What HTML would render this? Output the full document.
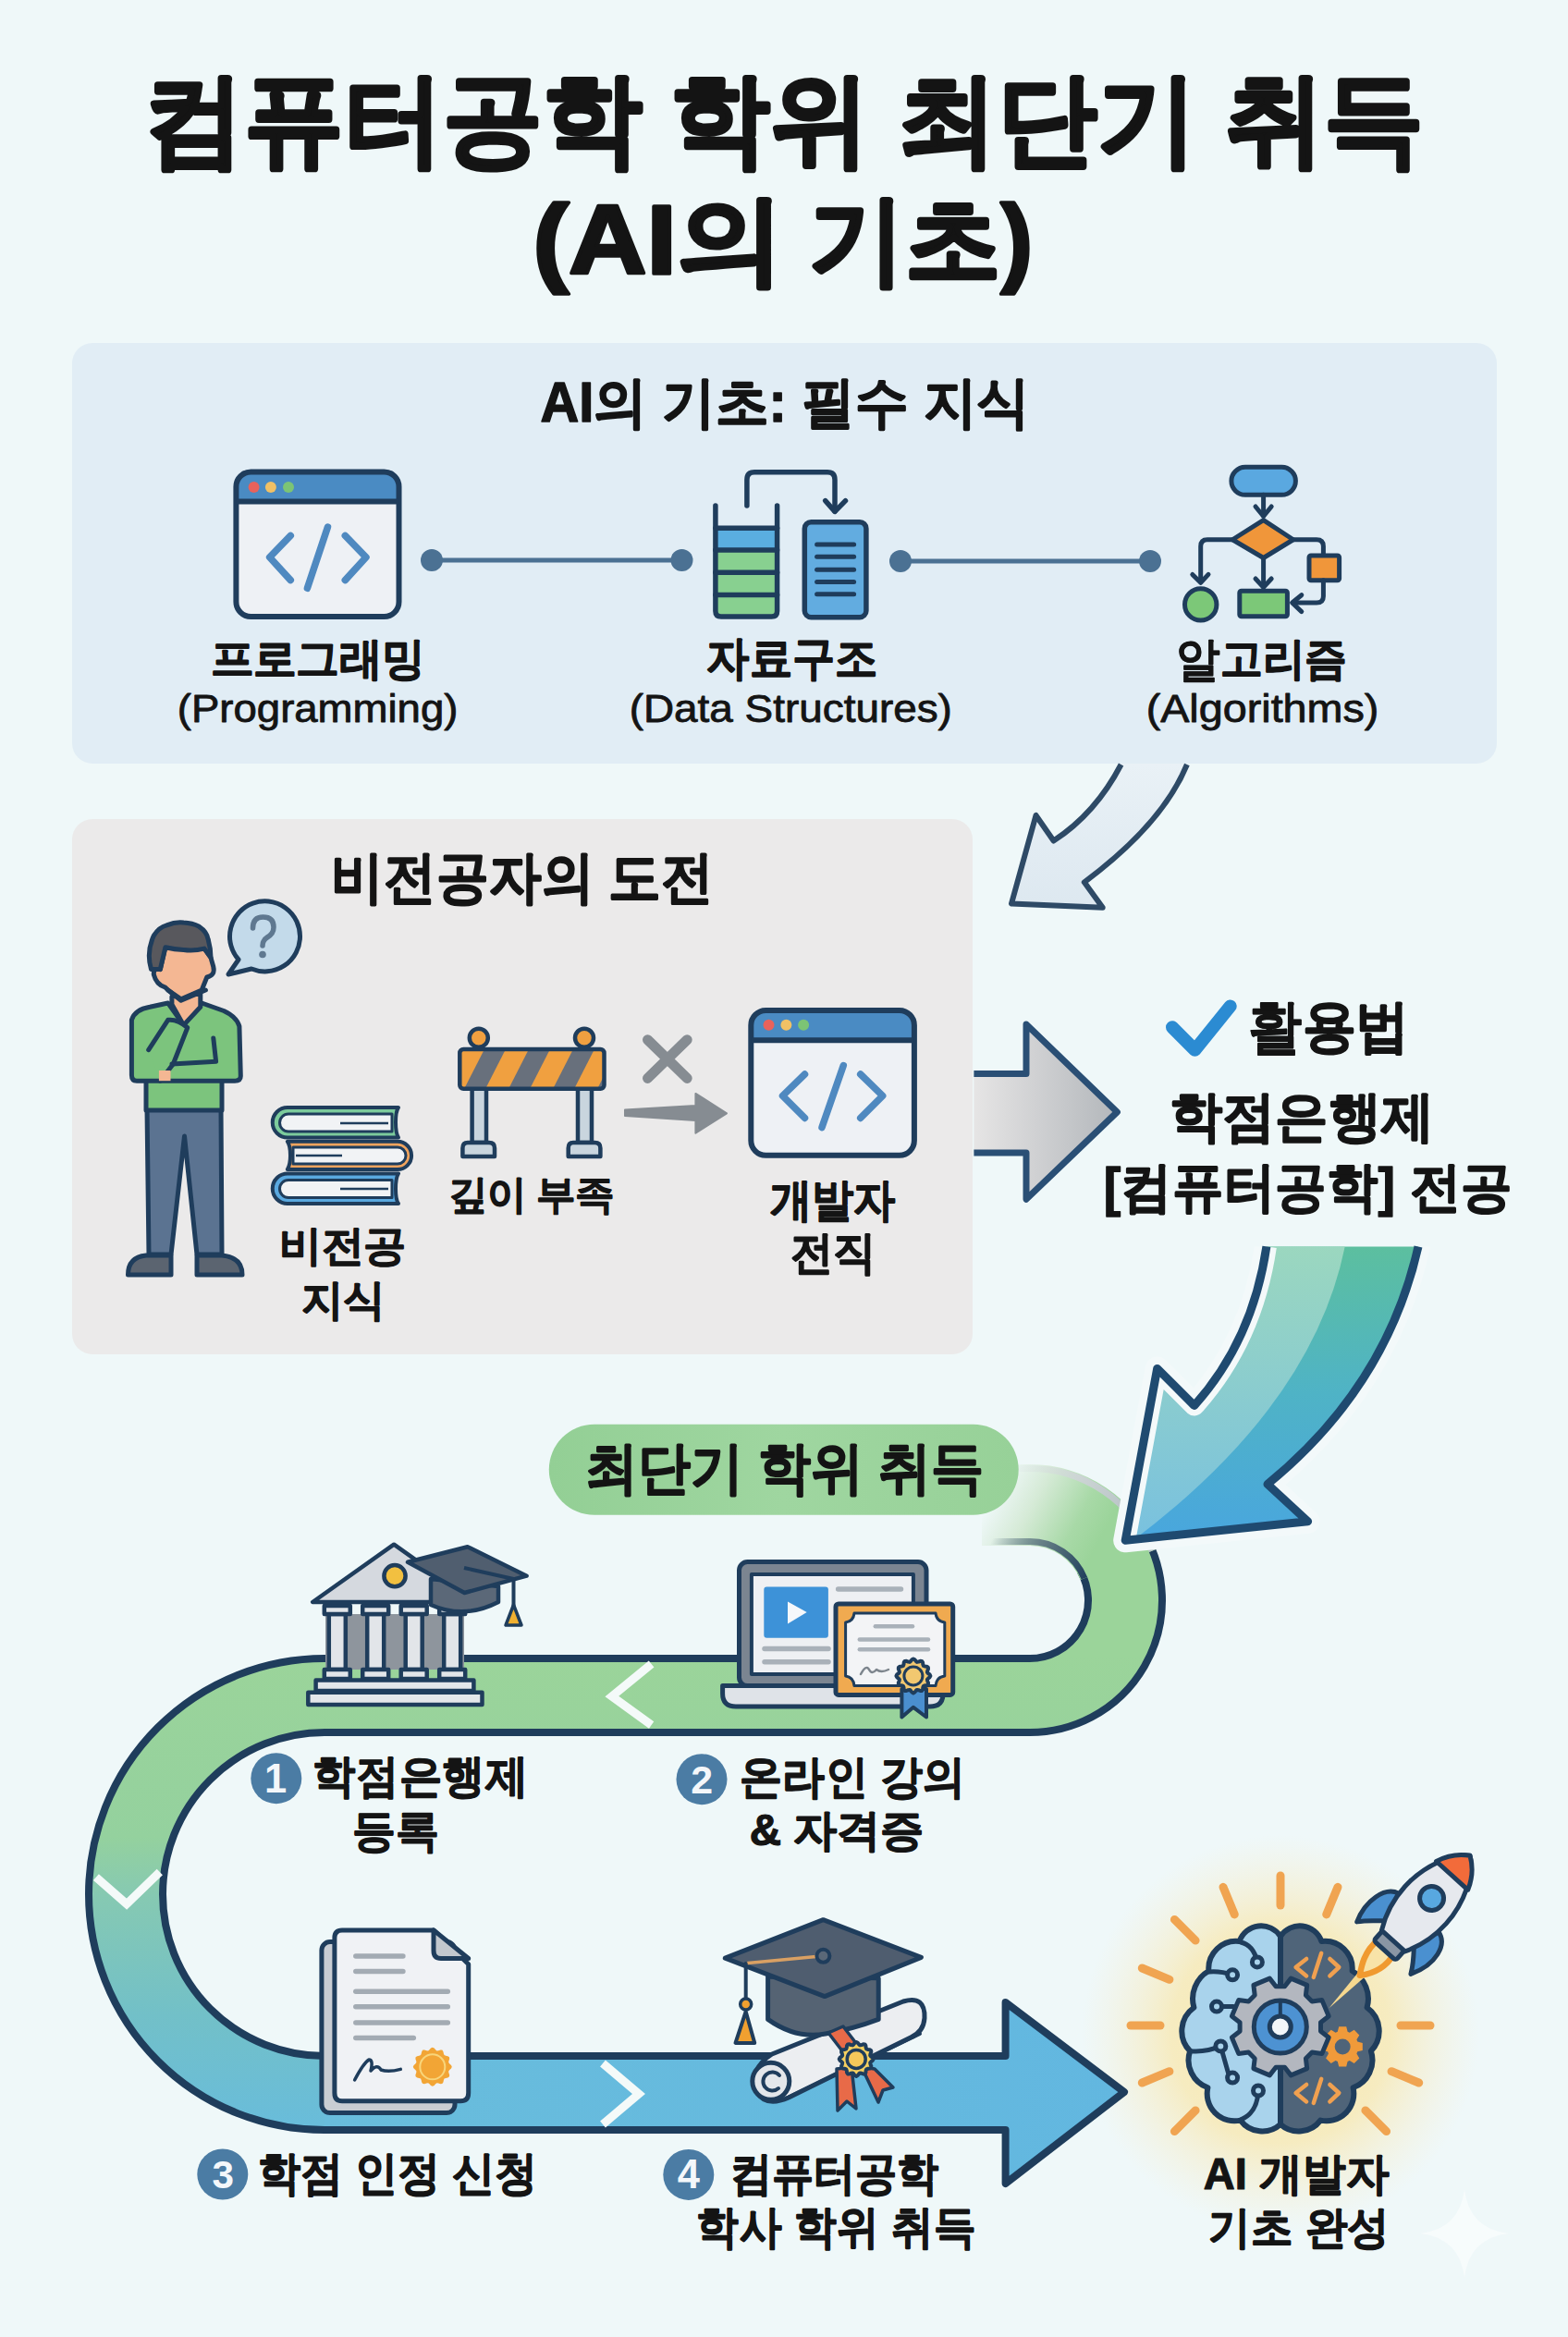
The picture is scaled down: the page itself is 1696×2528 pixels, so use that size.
<!DOCTYPE html>
<html><head><meta charset="utf-8"><title>컴퓨터공학 학위 최단기 취득</title><style>html,body{margin:0;padding:0;background:#eff8f9;width:1696px;height:2528px;overflow:hidden;font-family:"Liberation Sans",sans-serif}svg{display:block}</style></head><body>
<svg width="1696" height="2528" viewBox="0 0 1696 2528">
<defs>
<linearGradient id="roadG" gradientUnits="userSpaceOnUse" x1="0" y1="1790" x2="0" y2="2310">
 <stop offset="0" stop-color="#9bd49a"/><stop offset="0.38" stop-color="#94d19e"/>
 <stop offset="0.5" stop-color="#86c9b2"/><stop offset="0.75" stop-color="#72c0c8"/><stop offset="1" stop-color="#68bcdc"/></linearGradient>
<linearGradient id="blueBand" gradientUnits="userSpaceOnUse" x1="350" y1="0" x2="1220" y2="0">
 <stop offset="0" stop-color="#69bddc"/><stop offset="1" stop-color="#62b7e0"/></linearGradient>
<linearGradient id="fadeTop" gradientUnits="userSpaceOnUse" x1="1065" y1="0" x2="1200" y2="0">
 <stop offset="0" stop-color="#eff8f9" stop-opacity="1"/><stop offset="0.35" stop-color="#eff8f9" stop-opacity="0.75"/><stop offset="1" stop-color="#eff8f9" stop-opacity="0"/></linearGradient>
<linearGradient id="grayArrow" gradientUnits="userSpaceOnUse" x1="1053" y1="0" x2="1208" y2="0">
 <stop offset="0" stop-color="#e6e5e5"/><stop offset="0.45" stop-color="#cfd0d2"/><stop offset="1" stop-color="#b3b7bb"/></linearGradient>
<linearGradient id="lightArrow" gradientUnits="userSpaceOnUse" x1="0" y1="827" x2="0" y2="982">
 <stop offset="0" stop-color="#e9f1f6"/><stop offset="1" stop-color="#dde8f0"/></linearGradient>
<linearGradient id="bigL" gradientUnits="userSpaceOnUse" x1="0" y1="1348" x2="0" y2="1666">
 <stop offset="0" stop-color="#9bd7bf"/><stop offset="1" stop-color="#79c1df"/></linearGradient>
<linearGradient id="bigR" gradientUnits="userSpaceOnUse" x1="0" y1="1348" x2="0" y2="1666">
 <stop offset="0" stop-color="#5cbf9f"/><stop offset="0.5" stop-color="#4fb3c6"/><stop offset="1" stop-color="#49a6de"/></linearGradient>
<radialGradient id="glow" cx="1385" cy="2200" r="215" gradientUnits="userSpaceOnUse">
 <stop offset="0" stop-color="#fbe6a0" stop-opacity="0.95"/><stop offset="0.55" stop-color="#f9e6a8" stop-opacity="0.7"/><stop offset="1" stop-color="#f7eccc" stop-opacity="0"/></radialGradient>
<linearGradient id="pill" x1="0" y1="0" x2="1" y2="0">
 <stop offset="0" stop-color="#93cf95"/><stop offset="0.5" stop-color="#9fd6a0"/><stop offset="1" stop-color="#97d198"/></linearGradient>
<linearGradient id="stubG" gradientUnits="userSpaceOnUse" x1="1080" y1="1605" x2="1190" y2="1665">
 <stop offset="0" stop-color="#eff8f9"/><stop offset="0.35" stop-color="#d5ead6"/><stop offset="0.75" stop-color="#a8d9a7"/><stop offset="1" stop-color="#9bd49a"/></linearGradient>
<linearGradient id="stubN" gradientUnits="userSpaceOnUse" x1="1075" y1="1660" x2="1180" y2="1700">
 <stop offset="0" stop-color="#1f3d5c" stop-opacity="0"/><stop offset="0.45" stop-color="#52687a" stop-opacity="0.8"/><stop offset="1" stop-color="#1f3d5c" stop-opacity="1"/></linearGradient>
<linearGradient id="outerG" gradientUnits="userSpaceOnUse" x1="1085" y1="1590" x2="1230" y2="1650">
 <stop offset="0" stop-color="#dfe6e6" stop-opacity="0"/><stop offset="0.5" stop-color="#cdd5d5"/><stop offset="1" stop-color="#b4c0c4"/></linearGradient>
<clipPath id="belowTop"><rect x="1150" y="1348.4" width="450" height="400"/></clipPath>
<clipPath id="boardClip"><rect x="497.3" y="1134.9" width="156.2" height="42.9" rx="4"/></clipPath>
<clipPath id="bigClip"><path id="bigPath" d="M1369.9 1348.4 Q1355 1450 1291.8 1520.5 L1251.7 1480.4 L1217.2 1666.3 L1414.6 1645.7 L1371 1605.5 Q1500 1500 1534 1348.4 Z"/></clipPath>
</defs>
<rect x="0" y="0" width="1696" height="2528" fill="#eff8f9"/>
<rect x="78" y="371" width="1541" height="455" rx="22" fill="#e1edf5"/>
<rect x="78" y="886" width="974" height="579" rx="22" fill="#ebeaea"/>

<rect x="255.4" y="510.4" width="176.1" height="156.60000000000002" rx="16" fill="#eef1f5"/>
<path d="M255.4 542.5 V526.4 Q255.4 510.4 271.4 510.4 H415.5 Q431.5 510.4 431.5 526.4 V542.5 Z" fill="#4a8bc3"/>
<rect x="255.4" y="510.4" width="176.1" height="156.60000000000002" rx="16" fill="none" stroke="#1f3d5c" stroke-width="6"/>
<line x1="255.4" y1="542.5" x2="431.5" y2="542.5" stroke="#1f3d5c" stroke-width="6"/>
<circle cx="274.6" cy="527" r="6" fill="#e8625c"/>
<circle cx="292.9" cy="527" r="6" fill="#f1c165"/>
<circle cx="312" cy="527" r="6" fill="#7cc475"/>
<g fill="none" stroke="#4f89c0" stroke-width="7.5" stroke-linecap="round" stroke-linejoin="round"><polyline points="314.3,579.4 291.6,602.8 314.3,627.6"/><line x1="354.5" y1="570" x2="332.4" y2="636.3"/><polyline points="373.3,579.4 396,602.8 373.3,627.6"/></g>
<line x1="467" y1="606" x2="737.5" y2="606" stroke="#4b7193" stroke-width="5"/><circle cx="467" cy="606" r="12" fill="#4b7193"/><circle cx="737.5" cy="606" r="12" fill="#4b7193"/>
<line x1="974" y1="607" x2="1244" y2="607" stroke="#4b7193" stroke-width="5"/><circle cx="974" cy="607" r="12" fill="#4b7193"/><circle cx="1244" cy="607" r="12" fill="#4b7193"/>
<g stroke="#1f3d5c" stroke-width="5.5" stroke-linejoin="round" stroke-linecap="round">
<rect x="773.9" y="571.3" width="66.7" height="23.7" fill="#5aaee0" stroke="none"/>
<rect x="773.9" y="595" width="66.7" height="72" fill="#88d090" stroke="none"/>
<path d="M773.9 547.1 V661 Q773.9 667 780 667 H834.6 Q840.6 667 840.6 661 V547.1" fill="none"/>
<line x1="773.9" y1="571.3" x2="840.6" y2="571.3"/><line x1="773.9" y1="595" x2="840.6" y2="595"/>
<line x1="773.9" y1="619.2" x2="840.6" y2="619.2"/><line x1="773.9" y1="643.4" x2="840.6" y2="643.4"/>
<rect x="870.3" y="564.7" width="66.6" height="103" rx="7" fill="#62ace0"/>
<g stroke-width="5"><line x1="883.6" y1="588.9" x2="923.6" y2="588.9"/><line x1="883.6" y1="602.2" x2="923.6" y2="602.2"/><line x1="883.6" y1="616.2" x2="923.6" y2="616.2"/><line x1="883.6" y1="629.5" x2="923.6" y2="629.5"/><line x1="883.6" y1="642.8" x2="923.6" y2="642.8"/></g>
<path d="M807.9 547.1 V519 Q807.9 510.8 816 510.8 H895 Q903 510.8 903 519 V553" fill="none"/>
<polyline points="892.7,541.6 903,553.4 914.5,541.6" fill="none"/>
</g>
<g stroke="#1f3d5c" stroke-width="5" stroke-linejoin="round" stroke-linecap="round" fill="none">
<rect x="1331.9" y="505.3" width="69.5" height="30" rx="15" fill="#5aa8e0"/>
<line x1="1366.6" y1="535.3" x2="1366.6" y2="558"/><polyline points="1358,548 1366.6,558.5 1375.2,548"/>
<polygon points="1366.6,562.7 1398.8,583.75 1366.6,603.5 1333.1,583.75" fill="#f0963a"/>
<path d="M1333.1 583.75 H1306 Q1298.7 583.75 1298.7 591 V629"/><polyline points="1289.8,621.4 1298.7,630.3 1307,621.4"/>
<circle cx="1298.7" cy="653.9" r="17.2" fill="#7cc878"/>
<line x1="1366.6" y1="603.5" x2="1366.6" y2="634.5"/><polyline points="1358,626 1366.6,635.4 1375.2,626"/>
<rect x="1340.8" y="639.2" width="51.6" height="27.5" rx="2" fill="#7cc878"/>
<path d="M1398.8 583.75 H1424 Q1431.4 583.75 1431.4 591 V601"/>
<rect x="1416" y="601" width="32.6" height="26.8" rx="2" fill="#f0963a"/>
<path d="M1431.4 627.8 V645 Q1431.4 652 1424 652 H1398.6"/><polyline points="1407.8,643.7 1397.6,652 1407.8,661.6"/>
</g>
<path d="M1212.6 826 Q1185 880 1139.6 909.5 L1120.5 882 L1094 977.5 L1192.7 981.7 L1172.8 954.3 Q1257.6 891.1 1283.9 826 Z" fill="url(#lightArrow)"/>
<path d="M1212.6 827 Q1185 880 1139.6 909.5 L1120.5 882 L1094 977.5 L1192.7 981.7 L1172.8 954.3 Q1257.6 891.1 1283.9 827" fill="none" stroke="#2e4a66" stroke-width="6" stroke-linejoin="round"/>
<g stroke="#1f3d5c" stroke-width="5" stroke-linejoin="round" stroke-linecap="round">
<path d="M159 1199 H239 L240 1357 H213 L199.5 1229 L185 1357 H161 Z" fill="#5b7391"/>
<path d="M138.5 1379 Q138.5 1360 158 1358 H185 V1379 Z" fill="#5b6470"/>
<path d="M213 1358 H240 Q262 1360 262 1379 H213 Z" fill="#5b6470"/>
<path d="M158 1165 H240 V1201 H158 Z" fill="#7cc47d"/>
<path d="M142.4 1103.3 Q146 1092 162.1 1089.3 L181.7 1085 L198.6 1108.9 L218.2 1085 L242.1 1093.5 Q256 1100 258.9 1110.3 L260.3 1164 Q260.3 1169.2 254 1169.2 H148 Q142.4 1169.2 142.4 1163 Z" fill="#7cc47d"/>
<path d="M185.9 1078 V1086.5 L198.6 1108.9 L216.8 1089.3 V1075 Z" fill="#f4b793"/>
<path d="M178.9 1024.7 L221 1026.1 L228 1035.9 L230.8 1045.8 Q233 1055 223.8 1057 L218.2 1071 L195.8 1080.8 L181.7 1071 L178.9 1068.2 Q169.1 1065.4 166.3 1054.2 Q166 1046 173.3 1048.6 Z" fill="#f4b793"/>
<path d="M163.5 1048.6 Q158 1030 166.3 1012.1 Q172 1003 180.3 1000.9 Q190 997 198.6 998.1 Q208 998.5 215.4 1002.3 Q224 1008 225.2 1016.3 Q228 1026 228 1035.9 L221 1026.1 Q210 1029 198.6 1027.5 Q189 1027 178.9 1024.7 L173.3 1048.6 Z" fill="#58585d"/>
<path d="M181.7 1071 L195.8 1082.2 L222.4 1071" fill="none" stroke-width="5"/>
<path d="M160.7 1135.6 L181.7 1103.3 Q192 1102 202.8 1111.7 L187.3 1151 L173.3 1169.2" fill="#7cc47d"/>
<path d="M171.9 1158 H184.5 V1169.2 H171.9 Z" fill="#f4b793" stroke="none"/>
<path d="M186 1151 L233.6 1148.2 L230.8 1123" fill="none"/>
</g>
<path d="M258 1038 A38 38 0 1 1 272 1048 L247 1054 Z" fill="#c3daea" stroke="#1f3d5c" stroke-width="5" stroke-linejoin="round"/>
<g stroke="#1f3d5c" stroke-width="4" stroke-linejoin="round">
<path d="M431 1198 H311 A16.25 16.25 0 0 0 311 1230.5 H431 Q428 1226 428 1214 Q428 1202 431 1198 Z" fill="#7ccb9c"/>
<path d="M424 1205 H312 A9.5 9.5 0 0 0 312 1224 H424 Z" fill="#f1f3f5" stroke-width="3"/>
<path d="M310.8 1234.8 H430 A15.1 15.1 0 0 1 430 1265 H310.8 Q314 1260 314 1250 Q314 1239 310.8 1234.8 Z" fill="#f0a45e"/>
<path d="M317 1241 H430 A9 9 0 0 1 430 1259 H317 Z" fill="#f1f3f5" stroke-width="3"/>
<path d="M431 1269.5 H311 A16.25 16.25 0 0 0 311 1302 H431 Q428 1298 428 1286 Q428 1274 431 1269.5 Z" fill="#5aa9e0"/>
<path d="M424 1276.5 H312 A9.5 9.5 0 0 0 312 1295.5 H424 Z" fill="#f1f3f5" stroke-width="3"/>
<line x1="368" y1="1215" x2="420" y2="1215" stroke-width="2.5"/>
<line x1="320" y1="1250" x2="370" y2="1250" stroke-width="2.5"/>
<line x1="368" y1="1286" x2="420" y2="1286" stroke-width="2.5"/>
</g>
<g stroke="#1f3d5c" stroke-width="4.5" stroke-linejoin="round">
<rect x="510.6" y="1177.8" width="15.4" height="58.2" fill="#c9d5de"/>
<rect x="625" y="1177.8" width="15" height="58.2" fill="#c9d5de"/>
<path d="M500.4 1251 V1242 Q500.4 1236 506 1236 H529 Q535 1236 535 1242 V1251 Z" fill="#c9d5de"/>
<path d="M614.7 1251 V1242 Q614.7 1236 620 1236 H643.4 Q649.4 1236 649.4 1242 V1251 Z" fill="#c9d5de"/>
<circle cx="517.8" cy="1122.7" r="10" fill="#f0a040"/><circle cx="632" cy="1122.7" r="10" fill="#f0a040"/>
<rect x="497.3" y="1134.9" width="156.2" height="42.9" rx="4" fill="#f0a040" stroke="none"/>
<g clip-path="url(#boardClip)" stroke="none"><polygon points="502,1178 525,1178 547,1134.9 524,1134.9" fill="#68707c"/><polygon points="550,1178 573,1178 595,1134.9 572,1134.9" fill="#68707c"/><polygon points="598,1178 621,1178 643,1134.9 620,1134.9" fill="#68707c"/><polygon points="646,1178 669,1178 691,1134.9 668,1134.9" fill="#68707c"/></g>
<rect x="497.3" y="1134.9" width="156.2" height="42.9" rx="4" fill="none"/>
</g>
<g stroke="#868c92" stroke-width="11" stroke-linecap="round"><line x1="700.5" y1="1124.8" x2="743.2" y2="1166.4"/><line x1="743.2" y1="1124.8" x2="700.5" y2="1166.4"/></g>
<path d="M676 1200.5 L752.4 1196 V1182.9 L786 1204.3 L752.4 1225.7 V1212 L676 1207 Z" fill="#868c92" stroke="#868c92" stroke-width="2" stroke-linejoin="round"/>
<rect x="812.3" y="1093" width="176.60000000000002" height="156.70000000000005" rx="16" fill="#eef1f5"/>
<path d="M812.3 1125.2 V1109 Q812.3 1093 828.3 1093 H972.9 Q988.9 1093 988.9 1109 V1125.2 Z" fill="#4a8bc3"/>
<rect x="812.3" y="1093" width="176.60000000000002" height="156.70000000000005" rx="16" fill="none" stroke="#1f3d5c" stroke-width="6"/>
<line x1="812.3" y1="1125.2" x2="988.9" y2="1125.2" stroke="#1f3d5c" stroke-width="6"/>
<circle cx="831.5" cy="1108.7" r="6" fill="#e8625c"/>
<circle cx="850.4" cy="1108.7" r="6" fill="#f1c165"/>
<circle cx="869.1" cy="1108.7" r="6" fill="#7cc475"/>
<g fill="none" stroke="#4f89c0" stroke-width="7.5" stroke-linecap="round" stroke-linejoin="round"><polyline points="870.5,1162 846.5,1185.4 870.5,1209.4"/><line x1="912.3" y1="1152.6" x2="889" y2="1219.6"/><polyline points="930.7,1162 954.7,1185.4 930.7,1209.4"/></g>
<path d="M1053.4 1161.4 H1110 V1107.9 L1208.4 1202.9 L1110 1297.3 V1246.9 H1053.4 Z" fill="url(#grayArrow)"/>
<path d="M1053.4 1161.4 H1110 V1107.9 L1208.4 1202.9 L1110 1297.3 V1246.9 H1053.4" fill="none" stroke="#2a4f75" stroke-width="7" stroke-linejoin="round"/>
<polyline points="1268,1111.3 1292.4,1135.8 1330.7,1088.4" fill="none" stroke="#2b8bd2" stroke-width="14" stroke-linecap="round" stroke-linejoin="round"/>
<circle cx="1385" cy="2200" r="215" fill="url(#glow)"/>
<path d="M1203.20 1679.50 A103 103 0 0 1 1114 1834 H351 A215 215 0 0 0 351 2264 H1090" fill="none" stroke="#1f3d5c" stroke-width="88"/>
<path d="M1203.20 1679.50 A103 103 0 0 1 1114 1834 H351 A215 215 0 0 0 351 2264 H1090" fill="none" stroke="url(#roadG)" stroke-width="72"/>
<path d="M1062 1584 H1114 A147 147 0 0 1 1250.30 1675.93 L1168.70 1708.90 A59 59 0 0 0 1114 1672 H1062 Z" fill="url(#stubG)"/>
<path d="M1072 1667.5 H1114 A63.5 63.5 0 0 1 1172.88 1707.21" fill="none" stroke="url(#stubN)" stroke-width="7"/>
<path d="M1085 1588.5 H1114 A142.5 142.5 0 0 1 1246.12 1677.62" fill="none" stroke="url(#outerG)" stroke-width="7"/>
<path d="M351 2224.5 H1087.6 V2166 L1216 2263 L1087.6 2362 V2304 H351 Z" fill="url(#blueBand)"/>
<path d="M351 2224 H1087.6 V2166 L1216 2263 L1087.6 2362 V2304 H351" fill="none" stroke="#1f3d5c" stroke-width="8" stroke-linejoin="round"/>
<g fill="none" stroke="#f4faf9" stroke-width="9" stroke-linecap="butt" stroke-linejoin="miter"><polyline points="704.6,1800 661.8,1835 704.6,1866"/><polyline points="103.9,2030.6 137,2059.7 172.8,2025"/><polyline points="652,2232 691,2265 652,2298"/></g>
<rect x="593.8" y="1540.7" width="507.9" height="98.1" rx="49" fill="url(#pill)"/>
<path d="M1369.9 1348.4 Q1355 1450 1291.8 1520.5 L1251.7 1480.4 L1217.2 1666.3 L1414.6 1645.7 L1371 1605.5 Q1500 1500 1534 1348.4 Z" fill="none" stroke="#f3f9fa" stroke-width="26" stroke-linejoin="round" clip-path="url(#belowTop)"/>
<path d="M1369.9 1348.4 Q1355 1450 1291.8 1520.5 L1251.7 1480.4 L1217.2 1666.3 L1414.6 1645.7 L1371 1605.5 Q1500 1500 1534 1348.4 Z" fill="url(#bigR)"/>
<g clip-path="url(#bigClip)"><path d="M1200 1348 H1454.8 Q1420 1520 1225.3 1666.5 L1200 1670 Z" fill="url(#bigL)"/><path d="M1369.9 1348.4 Q1355 1450 1291.8 1520.5 L1251.7 1480.4 L1217.2 1666.3" fill="none" stroke="#f4f9fa" stroke-width="22" stroke-linejoin="round"/></g>
<path d="M1369.9 1348.4 Q1355 1450 1291.8 1520.5 L1251.7 1480.4 L1217.2 1666.3 L1414.6 1645.7 L1371 1605.5 Q1500 1500 1534 1348.4" fill="none" stroke="#1f4a70" stroke-width="9" stroke-linejoin="round"/>
<g stroke="#1f3d5c" stroke-width="4.5" stroke-linejoin="round">
<rect x="352" y="1746" width="150" height="60" fill="#8e959d" stroke="none"/>
<rect x="355.8" y="1746" width="18" height="60" fill="#e2e5e9" /><rect x="397.2" y="1746" width="18" height="60" fill="#e2e5e9" /><rect x="438.7" y="1746" width="18" height="60" fill="#e2e5e9" /><rect x="480.2" y="1746" width="18" height="60" fill="#e2e5e9" />
<rect x="350.8" y="1737" width="28" height="9" fill="#e2e5e9"/><rect x="350.8" y="1806" width="28" height="10" fill="#e2e5e9"/><rect x="392.2" y="1737" width="28" height="9" fill="#e2e5e9"/><rect x="392.2" y="1806" width="28" height="10" fill="#e2e5e9"/><rect x="433.7" y="1737" width="28" height="9" fill="#e2e5e9"/><rect x="433.7" y="1806" width="28" height="10" fill="#e2e5e9"/><rect x="475.2" y="1737" width="28" height="9" fill="#e2e5e9"/><rect x="475.2" y="1806" width="28" height="10" fill="#e2e5e9"/>
<polygon points="426.1,1670.7 338.2,1733 514,1733" fill="#d5d9df"/>
<circle cx="427" cy="1704.7" r="11.6" fill="#f2c040"/>
<rect x="341.6" y="1817.5" width="170.8" height="11.5" fill="#e4e7ea"/>
<rect x="333.3" y="1830.8" width="188.2" height="13.2" fill="#e4e7ea"/>
<path d="M466 1708 V1736 Q502 1752 539 1733 V1716 Z" fill="#5b6878"/>
<polygon points="441,1689.8 505.7,1673.2 569.6,1704.7 502.4,1723" fill="#505e6f"/>
<polyline points="502,1696 555.5,1708 555.5,1738" fill="none" stroke-width="4"/>
<polygon points="547,1758 564,1758 555.5,1736" fill="#f0b030" stroke-width="3.5"/>
</g>
<g stroke="#1f3d5c" stroke-width="5" stroke-linejoin="round" stroke-linecap="round">
<rect x="799.5" y="1689.6" width="202.5" height="134" rx="9" fill="#7b8591"/>
<rect x="812.9" y="1703" width="175" height="108" fill="#eef0f3" stroke-width="4"/>
<rect x="826.3" y="1716.4" width="69.6" height="55.4" rx="3" fill="#3d92d8" stroke="none"/>
<polygon points="852,1732.5 872.7,1744 852,1756.6" fill="#f6f8fb" stroke="none"/>
<g stroke="#a9b1b9" stroke-width="5.5"><line x1="906.6" y1="1719" x2="974.5" y2="1719"/><line x1="827" y1="1783.4" x2="896" y2="1783.4"/><line x1="827" y1="1797.7" x2="896" y2="1797.7"/></g>
<path d="M781.6 1823.6 H1020 V1832 Q1020 1846 1006 1846 H796 Q781.6 1846 781.6 1832 Z" fill="#dfe3e8"/>
<rect x="904" y="1735" width="126.7" height="98.4" rx="3" fill="#f0aa50"/>
<path d="M924 1745 H1012 Q1013 1754 1021.8 1755 V1813 Q1013 1814 1012 1823.6 H924 Q923 1814 914.6 1813 V1755 Q923 1754 924 1745 Z" fill="#f3f4f6" stroke-width="3"/>
<g stroke="#a9b1b9" stroke-width="4.5"><line x1="946.8" y1="1759.3" x2="987" y2="1759.3"/><line x1="929.8" y1="1773.6" x2="1004" y2="1773.6"/><line x1="929.8" y1="1784.3" x2="1004" y2="1784.3"/></g>
<path d="M931 1811 Q937 1800 940 1806 Q943 1812 948 1806 Q953 1810 961 1806" fill="none" stroke="#7d858d" stroke-width="2.5"/>
<polygon points="975.4,1827 1002,1827 1002,1857.5 987.9,1846.8 975.4,1857.5" fill="#4a8fd0" stroke-width="4"/>
<path d="M1006.4 1812.9 L1005.6 1814.4 L1003.9 1815.7 L1002.9 1816.9 L1003.2 1818.5 L1004.0 1820.4 L1003.9 1822.2 L1002.4 1823.1 L1000.3 1823.3 L998.9 1823.9 L998.3 1825.3 L998.1 1827.4 L997.1 1828.9 L995.4 1829.0 L993.5 1828.2 L991.9 1827.9 L990.7 1828.9 L989.4 1830.6 L987.9 1831.4 L986.4 1830.6 L985.1 1828.9 L983.9 1827.9 L982.3 1828.2 L980.4 1829.0 L978.6 1828.9 L977.7 1827.4 L977.5 1825.3 L976.9 1823.9 L975.5 1823.3 L973.4 1823.1 L971.9 1822.2 L971.8 1820.4 L972.6 1818.5 L972.9 1816.9 L971.9 1815.7 L970.2 1814.4 L969.4 1812.9 L970.2 1811.4 L971.9 1810.1 L972.9 1808.9 L972.6 1807.3 L971.8 1805.4 L971.9 1803.7 L973.4 1802.7 L975.5 1802.5 L976.9 1801.9 L977.5 1800.5 L977.7 1798.4 L978.6 1796.9 L980.4 1796.8 L982.3 1797.6 L983.9 1797.9 L985.1 1796.9 L986.4 1795.2 L987.9 1794.4 L989.4 1795.2 L990.7 1796.9 L991.9 1797.9 L993.5 1797.6 L995.4 1796.8 L997.1 1796.9 L998.1 1798.4 L998.3 1800.5 L998.9 1801.9 L1000.3 1802.5 L1002.4 1802.7 L1003.9 1803.7 L1004.0 1805.4 L1003.2 1807.3 L1002.9 1808.9 L1003.9 1810.1 L1005.6 1811.4 L1006.4 1812.9 Z" fill="#f2c870" stroke-width="4"/>
<circle cx="987.9" cy="1812.9" r="10" fill="#f2c870" stroke-width="3"/>
</g>
<g stroke="#1f3d5c" stroke-width="5" stroke-linejoin="round" stroke-linecap="round">
<rect x="347.9" y="2100.6" width="144.1" height="185" rx="9" fill="#c9cdd3"/>
<path d="M370 2087.9 H469 L506.7 2124.8 V2264 Q506.7 2272.8 498 2272.8 H370 Q361.9 2272.8 361.9 2264 V2096 Q361.9 2087.9 370 2087.9 Z" fill="#f0f2f5"/>
<path d="M469 2087.9 V2110 Q469 2118.5 477 2118.5 H506.7 Z" fill="#c2c8ce"/>
<g stroke="#a3abb3" stroke-width="5.5"><line x1="384.8" y1="2115.9" x2="435.9" y2="2115.9"/><line x1="384.8" y1="2132.5" x2="435.9" y2="2132.5"/><line x1="384.8" y1="2154.2" x2="484.3" y2="2154.2"/><line x1="384.8" y1="2170.8" x2="484.3" y2="2170.8"/><line x1="384.8" y1="2188" x2="484.3" y2="2188"/><line x1="384.8" y1="2204.6" x2="447.3" y2="2204.6"/></g>
<path d="M383.6 2250 Q393 2232 399 2228 Q404 2228 401 2240 Q408 2232 412 2239 Q420 2242 433.3 2238.4" fill="none" stroke-width="3.5"/>
<path d="M488.8 2235.8 L488.0 2237.6 L486.3 2239.1 L485.2 2240.5 L485.4 2242.2 L486.2 2244.4 L486.0 2246.3 L484.4 2247.4 L482.2 2247.9 L480.5 2248.5 L479.9 2250.2 L479.4 2252.4 L478.3 2254.0 L476.4 2254.2 L474.2 2253.4 L472.5 2253.2 L471.1 2254.3 L469.6 2256.0 L467.8 2256.8 L466.0 2256.0 L464.5 2254.3 L463.1 2253.2 L461.4 2253.4 L459.2 2254.2 L457.3 2254.0 L456.2 2252.4 L455.7 2250.2 L455.1 2248.5 L453.4 2247.9 L451.2 2247.4 L449.6 2246.3 L449.4 2244.4 L450.2 2242.2 L450.4 2240.5 L449.3 2239.1 L447.6 2237.6 L446.8 2235.8 L447.6 2234.0 L449.3 2232.5 L450.4 2231.1 L450.2 2229.4 L449.4 2227.2 L449.6 2225.3 L451.2 2224.2 L453.4 2223.7 L455.1 2223.1 L455.7 2221.4 L456.2 2219.2 L457.3 2217.6 L459.2 2217.4 L461.4 2218.2 L463.1 2218.4 L464.5 2217.3 L466.0 2215.6 L467.8 2214.8 L469.6 2215.6 L471.1 2217.3 L472.5 2218.4 L474.2 2218.2 L476.4 2217.4 L478.3 2217.6 L479.4 2219.2 L479.9 2221.4 L480.5 2223.1 L482.2 2223.7 L484.4 2224.2 L486.0 2225.3 L486.2 2227.2 L485.4 2229.4 L485.2 2231.1 L486.3 2232.5 L488.0 2234.0 L488.8 2235.8 Z" fill="#f2a535" stroke="none"/>
<circle cx="467.8" cy="2235.8" r="13.5" fill="none" stroke="#f8d57a" stroke-width="2"/>
</g>
<g stroke="#1f3d5c" stroke-width="5" stroke-linejoin="round" stroke-linecap="round">
<path d="M835 2222 L977 2165 Q1001 2158 1000 2183 Q999 2198 985 2204 L853 2269 Q828 2280 818 2262 Q810 2238 835 2222 Z" fill="#eceef1"/>
<path d="M850 2270 L995 2200" fill="none" stroke-width="4"/>
<circle cx="833.8" cy="2251.3" r="20" fill="#e3e6ea"/>
<path d="M843 2245 A10 10 0 1 0 842 2259" fill="none" stroke-width="4"/>
<path d="M830.6 2138 V2184.4 Q861 2206 892.8 2200 Q922 2195 950.2 2184.4 V2139.7 Z" fill="#556373"/>
<polygon points="784.3,2118.2 890.4,2076.7 996.4,2117.4 892,2159.6" fill="#4f5d6f"/>
<line x1="888" y1="2116" x2="809" y2="2123.5" stroke="#d9a063" stroke-width="3.5"/>
<circle cx="890.4" cy="2115.8" r="7" fill="#5a6878" stroke-width="4"/>
<line x1="806.7" y1="2124" x2="806.7" y2="2163" stroke-width="4"/>
<circle cx="806.7" cy="2168" r="6" fill="#f0a030" stroke-width="3.5"/>
<polygon points="795.5,2209.9 816.2,2209.9 806.7,2176" fill="#f0a030" stroke-width="4"/>
<polygon points="896,2199 912,2192 935,2222 919,2229" fill="#e86a48" stroke-width="3.5"/>
<polygon points="905,2238 921,2236 926,2281 916,2273 906,2283" fill="#e86a48" stroke-width="3.5"/>
<polygon points="932,2236 946,2238 966,2258 955,2261 950,2274" fill="#e86a48" stroke-width="3.5"/>
<path d="M944.7 2227.4 L943.9 2228.9 L942.2 2230.2 L941.2 2231.4 L941.5 2233.0 L942.3 2234.9 L942.2 2236.7 L940.7 2237.6 L938.6 2237.8 L937.2 2238.4 L936.6 2239.8 L936.4 2241.9 L935.5 2243.4 L933.7 2243.5 L931.8 2242.7 L930.2 2242.4 L929.0 2243.4 L927.7 2245.1 L926.2 2245.9 L924.7 2245.1 L923.4 2243.4 L922.2 2242.4 L920.6 2242.7 L918.7 2243.5 L917.0 2243.4 L916.0 2241.9 L915.8 2239.8 L915.2 2238.4 L913.8 2237.8 L911.7 2237.6 L910.2 2236.7 L910.1 2234.9 L910.9 2233.0 L911.2 2231.4 L910.2 2230.2 L908.5 2228.9 L907.7 2227.4 L908.5 2225.9 L910.2 2224.6 L911.2 2223.4 L910.9 2221.8 L910.1 2219.9 L910.2 2218.2 L911.7 2217.2 L913.8 2217.0 L915.2 2216.4 L915.8 2215.0 L916.0 2212.9 L917.0 2211.4 L918.7 2211.3 L920.6 2212.1 L922.2 2212.4 L923.4 2211.4 L924.7 2209.7 L926.2 2208.9 L927.7 2209.7 L929.0 2211.4 L930.2 2212.4 L931.8 2212.1 L933.7 2211.3 L935.5 2211.4 L936.4 2212.9 L936.6 2215.0 L937.2 2216.4 L938.6 2217.0 L940.7 2217.2 L942.2 2218.2 L942.3 2219.9 L941.5 2221.8 L941.2 2223.4 L942.2 2224.6 L943.9 2225.9 L944.7 2227.4 Z" fill="#f5d060" stroke-width="4"/>
<circle cx="926.2" cy="2227.4" r="10" fill="#f5c85a" stroke-width="3.5"/>
</g>
<g stroke="#f0a451" stroke-width="9" stroke-linecap="round"><line x1="1515.0" y1="2191.0" x2="1547.0" y2="2191.0"/><line x1="1434.7" y1="2070.9" x2="1447.0" y2="2041.3"/><line x1="1385.0" y1="2061.0" x2="1385.0" y2="2029.0"/><line x1="1335.3" y1="2070.9" x2="1323.0" y2="2041.3"/><line x1="1293.1" y1="2099.1" x2="1270.4" y2="2076.4"/><line x1="1264.9" y1="2141.3" x2="1235.3" y2="2129.0"/><line x1="1255.0" y1="2191.0" x2="1223.0" y2="2191.0"/><line x1="1264.9" y1="2240.7" x2="1235.3" y2="2253.0"/><line x1="1293.1" y1="2282.9" x2="1270.4" y2="2305.6"/><line x1="1476.9" y1="2282.9" x2="1499.6" y2="2305.6"/><line x1="1505.1" y1="2240.7" x2="1534.7" y2="2253.0"/></g>
<path d="M1385 2094.6 A24.9 24.9 0 0 0 1340.6 2100 A29.7 29.7 0 0 0 1307.4 2132 A34.7 34.7 0 0 0 1291.4 2171.6 A31.2 31.2 0 0 0 1287.1 2218.7 A31.7 31.7 0 0 0 1306.4 2258.3 A29.5 29.5 0 0 0 1341.7 2293.6 A29.5 29.5 0 0 0 1385 2298 Z" fill="#a9d3ec" stroke="#1f3d5c" stroke-width="6" stroke-linejoin="round"/>
<path d="M1385 2094.6 A24.9 24.9 0 0 0 1340.6 2100 A29.7 29.7 0 0 0 1307.4 2132 A34.7 34.7 0 0 0 1291.4 2171.6 A31.2 31.2 0 0 0 1287.1 2218.7 A31.7 31.7 0 0 0 1306.4 2258.3 A29.5 29.5 0 0 0 1341.7 2293.6 A29.5 29.5 0 0 0 1385 2298 Z" transform="translate(2770 0) scale(-1 1)" fill="#4f6479" stroke="#1f3d5c" stroke-width="6" stroke-linejoin="round"/>
<g stroke="#1f3d5c" stroke-width="5" fill="none" stroke-linecap="round">
<path d="M1359.9 2122.4 Q1356 2104 1342 2101"/><circle cx="1359.9" cy="2122.4" r="5.5" fill="#a9d3ec"/>
<path d="M1333.1 2136.3 Q1320 2132 1308 2133"/><circle cx="1333.1" cy="2136.3" r="5.5" fill="#a9d3ec"/>
<path d="M1316 2170.6 H1334"/><circle cx="1316" cy="2170.6" r="5.5" fill="#a9d3ec"/>
<path d="M1320.3 2213.4 Q1305 2220 1288 2218.7 M1320.3 2213.4 L1330 2247.6"/><circle cx="1320.3" cy="2213.4" r="5.5" fill="#a9d3ec"/>
<circle cx="1333.1" cy="2247.6" r="5.5" fill="#a9d3ec"/>
<path d="M1361 2261.5 Q1360 2285 1342.8 2292.6"/><circle cx="1361" cy="2261.5" r="5.5" fill="#a9d3ec"/>
</g>
<g fill="none" stroke="#f0a050" stroke-width="4.5" stroke-linecap="round" stroke-linejoin="round"><polyline points="1413.1,2119 1401.6,2128 1413.1,2137.4"/><line x1="1429.2" y1="2112.9" x2="1420.8" y2="2138.9"/><polyline points="1438.4,2119 1448.3,2128 1438.4,2137.4"/></g>
<g fill="none" stroke="#f0a050" stroke-width="4.5" stroke-linecap="round" stroke-linejoin="round"><polyline points="1413.1,2255 1401.6,2264 1413.1,2273.4"/><line x1="1429.2" y1="2248.9" x2="1420.8" y2="2274.9"/><polyline points="1438.4,2255 1448.3,2264 1438.4,2273.4"/></g>
<path d="M1468.3 2208.5 L1473.8 2209.9 L1473.8 2217.9 L1468.3 2219.3 L1467.4 2221.5 L1470.3 2226.4 L1464.7 2232.0 L1459.8 2229.1 L1457.6 2230.0 L1456.2 2235.5 L1448.2 2235.5 L1446.8 2230.0 L1444.6 2229.1 L1439.7 2232.0 L1434.1 2226.4 L1437.0 2221.5 L1436.1 2219.3 L1430.6 2217.9 L1430.6 2209.9 L1436.1 2208.5 L1437.0 2206.3 L1434.1 2201.4 L1439.7 2195.8 L1444.6 2198.7 L1446.8 2197.8 L1448.2 2192.3 L1456.2 2192.3 L1457.6 2197.8 L1459.8 2198.7 L1464.7 2195.8 L1470.3 2201.4 L1467.4 2206.3 Z" fill="#f09a3a"/><circle cx="1452.2" cy="2213.9" r="8.5" fill="#4f6479"/>
<path d="M1428.5 2197.3 L1437.2 2204.0 L1429.9 2221.4 L1419.1 2220.1 L1412.4 2226.8 L1413.7 2237.6 L1396.3 2244.9 L1389.6 2236.2 L1380.0 2236.2 L1373.3 2244.9 L1355.9 2237.6 L1357.2 2226.8 L1350.5 2220.1 L1339.7 2221.4 L1332.4 2204.0 L1341.1 2197.3 L1341.1 2187.7 L1332.4 2181.0 L1339.7 2163.6 L1350.5 2164.9 L1357.2 2158.2 L1355.9 2147.4 L1373.3 2140.1 L1380.0 2148.8 L1389.6 2148.8 L1396.3 2140.1 L1413.7 2147.4 L1412.4 2158.2 L1419.1 2164.9 L1429.9 2163.6 L1437.2 2181.0 L1428.5 2187.7 Z" fill="#b3b7bf" stroke="#1f3d5c" stroke-width="5" stroke-linejoin="round"/>
<circle cx="1384.8" cy="2192.5" r="28.5" fill="#4d92d2" stroke="#1f3d5c" stroke-width="5"/>
<line x1="1384.8" y1="2164" x2="1384.8" y2="2181" stroke="#1f3d5c" stroke-width="4"/>
<circle cx="1384.8" cy="2192.5" r="11.5" fill="#f2f6f9" stroke="#1f3d5c" stroke-width="5"/>
<g transform="translate(1508.4 2098) rotate(42)" stroke="#1f3d5c" stroke-width="5" stroke-linejoin="round" stroke-linecap="round">
<path d="M-7 20 L-3 103 L7 20 Z" fill="#f6d88f" stroke="none"/>
<path d="M-13 12 C-16 32 -7 46 -2 54 C5 46 14 32 10 12" fill="#f8e3a8" stroke="#f09a30" stroke-width="6.5"/>
<path d="M-30 -40 C-46 -36 -52 -10 -43 13 C-36 4 -28 -2 -21 -8 Z" fill="#4a90d0"/>
<path d="M30 -38 C46 -34 52 -10 38 16 C33 6 26 -2 21 -8 Z" fill="#4a90d0"/>
<rect x="-16" y="-2" width="32" height="18" rx="3" fill="#8a96a4"/>
<path d="M0 -122 C16 -112 30 -80 30 -50 C30 -26 23 -9 17 2 H-17 C-23 -9 -30 -26 -30 -50 C-30 -80 -16 -112 0 -122 Z" fill="#e6e9ee"/>
<path d="M0 -122 C11 -115 19 -104 23 -93 H-23 C-19 -104 -11 -115 0 -122 Z" fill="#f26b3a"/>
<circle cx="0" cy="-60" r="13" fill="#58a8e0"/>
</g>
<path d="M1584 2368 Q1589 2411 1632 2416 Q1589 2421 1584 2464 Q1579 2421 1536 2416 Q1579 2411 1584 2368 Z" fill="#ffffff" opacity="0.5"/>
<circle cx="298.8" cy="1923.7" r="27.5" fill="#4b7ca4"/>
<text transform="translate(285.97 1938.70) scale(0.4348)" font-weight="bold" font-size="100" font-family="Liberation Sans, sans-serif" fill="#f4f7fa">1</text>
<circle cx="759" cy="1924.7" r="27.5" fill="#4b7ca4"/>
<text transform="translate(747.21 1939.70) scale(0.4286)" font-weight="bold" font-size="100" font-family="Liberation Sans, sans-serif" fill="#f4f7fa">2</text>
<circle cx="240.8" cy="2352" r="27.5" fill="#4b7ca4"/>
<text transform="translate(229.39 2366.58) scale(0.4225)" font-weight="bold" font-size="100" font-family="Liberation Sans, sans-serif" fill="#f4f7fa">3</text>
<circle cx="744.8" cy="2352.4" r="27.5" fill="#4b7ca4"/>
<text transform="translate(732.63 2367.40) scale(0.4348)" font-weight="bold" font-size="100" font-family="Liberation Sans, sans-serif" fill="#f4f7fa">4</text>
<path d="M273.5 1004 Q273.5 992 284.5 992 Q296 992 296 1003 Q296 1010 289 1014 Q284 1017 284 1023" fill="none" stroke="#5f7890" stroke-width="5.5" stroke-linecap="round" stroke-linejoin="round"/><circle cx="284" cy="1032.5" r="3.8" fill="#5f7890"/>
<g fill="#141414" stroke="#141414" stroke-linejoin="round" font-family="Liberation Sans, sans-serif" font-size="100"><text transform="translate(155.76 167.04) scale(1.0807 1.1031)" font-weight="bold" stroke-width="3.5">컴퓨터공학 학위 최단기 취득</text>
<text transform="translate(576.50 295.63) scale(1.1651 1.0594)" font-weight="bold" stroke-width="3.5">(AI의</text>
<text transform="translate(874.97 295.63) scale(1.0349 1.0594)" font-weight="bold" stroke-width="3.5">기초)</text>
<text transform="translate(584.42 455.56) scale(0.5780 0.6021)" font-weight="bold" stroke-width="2.5">AI의 기초: 필수 지식</text>
<text transform="translate(227.57 729.34) scale(0.4669 0.4800)" font-weight="bold" stroke-width="2.5">프로그래밍</text>
<text transform="translate(191.82 781.16) scale(0.4554 0.4292)" font-weight="normal" stroke-width="2">(Programming)</text>
<text transform="translate(764.40 729.35) scale(0.4600 0.4968)" font-weight="bold" stroke-width="2.5">자료구조</text>
<text transform="translate(680.71 780.51) scale(0.4587 0.4177)" font-weight="normal" stroke-width="2">(Data Structures)</text>
<text transform="translate(1272.26 730.55) scale(0.4772 0.5110)" font-weight="bold" stroke-width="0.8">알</text>
<text transform="translate(1319.70 728.98) scale(0.4607 0.4844)" font-weight="bold" stroke-width="2.5">고리즘</text>
<text transform="translate(1239.66 780.92) scale(0.4673 0.4219)" font-weight="normal" stroke-width="2">(Algorithms)</text>
<text transform="translate(358.41 969.87) scale(0.5700 0.6137)" font-weight="bold" stroke-width="2.5">비전공자의 도전</text>
<text transform="translate(302.21 1362.73) scale(0.4556 0.4453)" font-weight="bold" stroke-width="2.5">비전공</text>
<text transform="translate(325.54 1421.66) scale(0.4578 0.4635)" font-weight="bold" stroke-width="2.5">지식</text>
<text transform="translate(484.90 1306.85) scale(0.4203 0.4250)" font-weight="bold" stroke-width="2.5">깊이 부족</text>
<text transform="translate(832.90 1315.34) scale(0.4537 0.4916)" font-weight="bold" stroke-width="2.5">개발자</text>
<text transform="translate(854.60 1371.59) scale(0.4670 0.4948)" font-weight="bold" stroke-width="2.5">전직</text>
<text transform="translate(1349.68 1133.05) scale(0.5811 0.6396)" font-weight="bold" stroke-width="0.8">활</text>
<text transform="translate(1408.91 1131.09) scale(0.5770 0.6063)" font-weight="bold" stroke-width="2.5">용법</text>
<text transform="translate(1265.14 1227.69) scale(0.5723 0.5896)" font-weight="bold" stroke-width="2.5">학점은행제</text>
<text transform="translate(1193.78 1303.60) scale(0.5557 0.5820)" font-weight="bold" stroke-width="2.5">[컴퓨터공학] 전공</text>
<text transform="translate(633.29 1608.91) scale(0.5709 0.6104)" font-weight="bold" stroke-width="2.5">최단기 학위 취득</text>
<text transform="translate(338.29 1938.31) scale(0.4616 0.4885)" font-weight="bold" stroke-width="2.5">학점은행제</text>
<text transform="translate(381.17 1996.70) scale(0.4668 0.4777)" font-weight="bold" stroke-width="2.5">등록</text>
<text transform="translate(800.10 1939.14) scale(0.4603 0.4916)" font-weight="bold" stroke-width="2.5">온라인 강의</text>
<text transform="translate(810.77 1996.37) scale(0.4755 0.4740)" font-weight="bold" stroke-width="2.5">&amp; 자격증</text>
<text transform="translate(279.30 2367.84) scale(0.4592 0.4979)" font-weight="bold" stroke-width="2.5">학점 인정 신청</text>
<text transform="translate(789.84 2367.75) scale(0.4529 0.4917)" font-weight="bold" stroke-width="2.5">컴퓨터공학</text>
<text transform="translate(753.41 2425.95) scale(0.4577 0.4917)" font-weight="bold" stroke-width="2.5">학사 학위 취득</text>
<text transform="translate(1301.73 2367.59) scale(0.4696 0.4832)" font-weight="bold" stroke-width="2.5">AI 개발자</text>
<text transform="translate(1307.38 2425.77) scale(0.4585 0.4842)" font-weight="bold" stroke-width="2.5">기초 완성</text></g>
</svg>
</body></html>
